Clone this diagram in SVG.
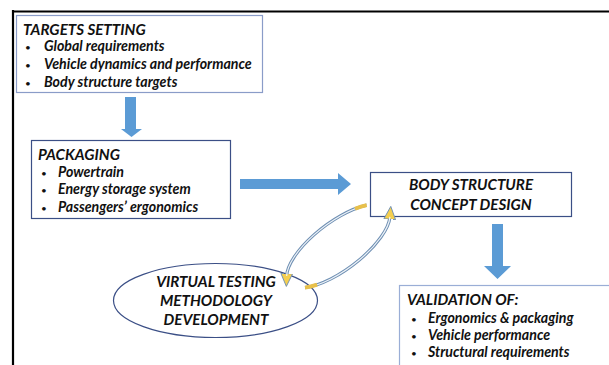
<svg xmlns="http://www.w3.org/2000/svg" width="609" height="365" viewBox="0 0 609 365">
<defs>
<style>
.t{font-family:Lato,"Liberation Sans",sans-serif;font-weight:bold;font-style:italic;font-size:14.2px;fill:#111}
.h{font-size:15.2px}
.b{font-family:Lato,"Liberation Sans",sans-serif;font-size:10px;fill:#111}
.c{text-anchor:middle}
.blk{fill:#5b9bd5}
.loop{fill:none;stroke:#6e8fb3;stroke-width:3.2}
.loopin{fill:none;stroke:#eef3f8;stroke-width:1.2}
.tail{fill:none;stroke:#e8c04a;stroke-width:4}
</style>
<marker id="ah" markerWidth="14" markerHeight="14" refX="2" refY="5" orient="auto" markerUnits="userSpaceOnUse" viewBox="0 0 12 10">
<path d="M0,0 L11,5 L0,10 Z" fill="#f5cf4f" stroke="#6e8fb3" stroke-width="0.8"/>
</marker>
</defs>
<rect width="609" height="365" fill="#fff"/>
<path d="M13,11.5 H609 M13,10 V365" stroke="#000" stroke-width="2.2" fill="none"/>

<g id="targets">
<rect x="16.5" y="15.5" width="246" height="77" fill="#fff" stroke="#8a9cc8" stroke-width="1.2"/>
<text class="t h" x="23" y="34.5">TARGETS SETTING</text>
<text class="b" x="25" y="51">•</text><text class="t" x="44" y="51">Global requirements</text>
<text class="b" x="25" y="69">•</text><text class="t" x="44" y="69">Vehicle dynamics and performance</text>
<text class="b" x="25" y="87">•</text><text class="t" x="44" y="87">Body structure targets</text>
</g>

<g id="packaging">
<rect x="31.5" y="140.5" width="199" height="78" fill="#fff" stroke="#3b4f86" stroke-width="1.2"/>
<text class="t h" x="38" y="160">PACKAGING</text>
<text class="b" x="41" y="177">•</text><text class="t" x="58" y="177">Powertrain</text>
<text class="b" x="41" y="194">•</text><text class="t" x="58" y="194">Energy storage system</text>
<text class="b" x="41" y="212">•</text><text class="t" x="58" y="212">Passengers’ ergonomics</text>
</g>

<g id="body">
<rect x="370.5" y="172.5" width="201" height="44" fill="#fff" stroke="#3b4f86" stroke-width="1.2"/>
<text class="t h c" x="471" y="190">BODY STRUCTURE</text>
<text class="t h c" x="471" y="210">CONCEPT DESIGN</text>
</g>

<g id="virtual">
<ellipse cx="215.5" cy="300.5" rx="102" ry="37" fill="#fff" stroke="#3b4f86" stroke-width="1.2"/>
<text class="t h c" x="216" y="287">VIRTUAL TESTING</text>
<text class="t h c" x="216" y="306">METHODOLOGY</text>
<text class="t h c" x="216" y="325">DEVELOPMENT</text>
</g>

<g id="validation">
<rect x="399.5" y="285.5" width="220" height="100" fill="#fff" stroke="#9aaed6" stroke-width="1.2"/>
<text class="t h" x="407" y="305">VALIDATION OF:</text>
<text class="b" x="411" y="323">•</text><text class="t" x="428" y="323">Ergonomics &amp; packaging</text>
<text class="b" x="411" y="340">•</text><text class="t" x="428" y="340">Vehicle performance</text>
<text class="b" x="411" y="357">•</text><text class="t" x="428" y="357">Structural requirements</text>
</g>

<g id="connectors">
<path class="blk" d="M125,97 H136 V129 H142 L131.5,137 L121,129 H125 Z"/>
<path class="blk" d="M240,179 H338 V173 L351,184 L338,195 V189 H240 Z"/>
<path class="blk" d="M492,224 H503 V266 H511 L497.5,279 L484,266 H492 Z"/>
<g transform="translate(338,246) rotate(-37)">
<path class="loop" d="M47.5,-15.4 A62,24 0 0 0 -59,-7" marker-end="url(#ah)"/>
<path class="loopin" d="M47.5,-15.4 A62,24 0 0 0 -59,-7"/>
<path class="loop" d="M-51.4,13.4 A62,24 0 0 0 59,8" marker-end="url(#ah)"/>
<path class="loopin" d="M-51.4,13.4 A62,24 0 0 0 59,8"/>
<path class="tail" d="M47.5,-15.4 A62,24 0 0 0 36,-19.5"/>
<path class="tail" d="M-51.4,13.4 A62,24 0 0 0 -40,18.3"/>
</g>
</g>
</svg>
